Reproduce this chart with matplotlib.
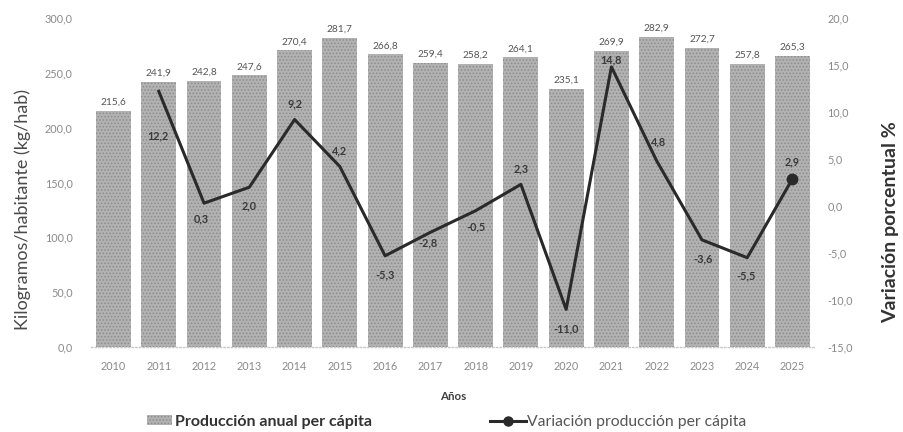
import matplotlib
matplotlib.use("Agg")
import matplotlib.pyplot as plt
from matplotlib.lines import Line2D
from matplotlib.patches import Patch

years = ["2010", "2011", "2012", "2013", "2014", "2015", "2016", "2017",
         "2018", "2019", "2020", "2021", "2022", "2023", "2024", "2025"]
produccion = [215.6, 241.9, 242.8, 247.6, 270.4, 281.7, 266.8, 259.4,
              258.2, 264.1, 235.1, 269.9, 282.9, 272.7, 257.8, 265.3]
variacion_years = years[1:]
variacion = [12.2, 0.3, 2.0, 9.2, 4.2, -5.3, -2.8, -0.5, 2.3, -11.0,
             14.8, 4.8, -3.6, -5.5, 2.9]

left_ticks = [0, 50, 100, 150, 200, 250, 300]
right_ticks = [-15, -10, -5, 0, 5, 10, 15, 20]

def fmt(v):
    return f"{v:.1f}".replace(".", ",")

plt.rcParams['font.family'] = ['Lato', 'DejaVu Sans']
plt.rcParams['hatch.linewidth'] = 0.7

W, H = 904, 432
AX_L, AX_R, AX_T, AX_B = 90.9, 815.1, 18, 347
fig = plt.figure(figsize=(W/100, H/100), dpi=100)
ax = fig.add_axes([AX_L/W, 1-AX_B/H, (AX_R-AX_L)/W, (AX_B-AX_T)/H])
ax2 = ax.twinx()

BAR_FACE, BAR_DOTS = '#b2b2b2', '#8c8c8c'
x = list(range(len(years)))
ax.bar(x, produccion, width=0.77, color=BAR_FACE, edgecolor=BAR_DOTS,
       linewidth=0, hatch='.....', zorder=2)
for xi, v in zip(x, produccion):
    ax.annotate(fmt(v), (xi, v), xytext=(0, 3), textcoords='offset points',
                ha='center', va='bottom', fontsize=7.3, color='#555555')

ax.set_xlim(-0.5, len(years) - 0.5)
ax.set_ylim(0, 300)
ax.set_yticks(left_ticks)
ax.set_yticklabels([fmt(t) for t in left_ticks])
ax.set_xticks(x)
ax.set_xticklabels(years)
ax.tick_params(axis='both', length=0, labelsize=7.8, labelcolor='#8a8a8a')
ax.tick_params(axis='x', pad=10)
ax.tick_params(axis='y', pad=13)
for s in ['top', 'right', 'left']:
    ax.spines[s].set_visible(False)
ax.spines['bottom'].set_color('#c8c8c8')
ax.spines['bottom'].set_linestyle(':')
ax.spines['bottom'].set_linewidth(1.0)
ax.set_ylabel("Kilogramos/habitante (kg/hab)", fontsize=13, color='#4a4a4a')
ax.yaxis.set_label_coords((31 - AX_L) / (AX_R - AX_L), (AX_B - 210) / (AX_B - AX_T))
ax.set_xlabel("Años", fontsize=8.3, fontweight='bold', color='#404040', labelpad=14)

xv = list(range(1, len(years)))
ax2.plot(xv, variacion, color='#2a2a2a', linewidth=2.2, zorder=3)
ax2.plot([xv[-1]], [variacion[-1]], 'o', color='#2a2a2a', markersize=7.5, zorder=4)
ax2.set_ylim(-15, 20)
ax2.set_yticks(right_ticks)
ax2.set_yticklabels([fmt(t) for t in right_ticks])
ax2.tick_params(axis='y', length=0, labelsize=7.8, labelcolor='#8a8a8a', pad=9)
for s in ['top', 'right', 'left', 'bottom']:
    ax2.spines[s].set_visible(False)
ax2.set_ylabel("Variación porcentual %", fontsize=14, fontweight='bold', color='#333333')
ax2.yaxis.set_label_coords((882 - AX_L) / (AX_R - AX_L), (AX_B - 222) / (AX_B - AX_T))

# label offsets in pixels (dx, dy) relative to line points; positive dy is up
offsets = [(-1, -45), (-3, -16), (0, -19), (0, 16), (0, 16), (0, -19), (-2, -11),
           (0, -16), (0, 16), (0, -19), (0, 7), (2, 19), (1, -19), (-1, -18), (0, 17)]
for xi, v, (dx, dy) in zip(xv, variacion, offsets):
    ax2.annotate(fmt(v), (xi, v), xytext=(dx * 0.72, dy * 0.72), textcoords='offset points',
                 ha='center', va='center', fontsize=7.8, fontweight='bold', color='#3a3a3a',
                 zorder=5)

LEG_Y = 1 - 422 / H
leg1 = fig.legend([Patch(facecolor=BAR_FACE, edgecolor=BAR_DOTS, hatch='.....', linewidth=0)],
                  ["Producción anual per cápita"], loc='center left',
                  bbox_to_anchor=(147 / W, LEG_Y), frameon=False,
                  borderpad=0, borderaxespad=0, handlelength=1.55, handleheight=0.6,
                  handletextpad=0.2,
                  prop={'weight': 'bold', 'size': 11.5})
leg1.get_texts()[0].set_color('#333333')
leg2 = fig.legend([Line2D([0, 1], [0, 0], color='#2a2a2a', linewidth=2.2, marker='o',
                          markersize=6.5, markevery=[1])],
                  ["Variación producción per cápita"], loc='center left',
                  bbox_to_anchor=(490 / W, LEG_Y), frameon=False, fontsize=11.3,
                  borderpad=0, borderaxespad=0, handlelength=2.3, handletextpad=0.05)
leg2.get_texts()[0].set_color('#555555')

fig.savefig("out.png", dpi=100)
